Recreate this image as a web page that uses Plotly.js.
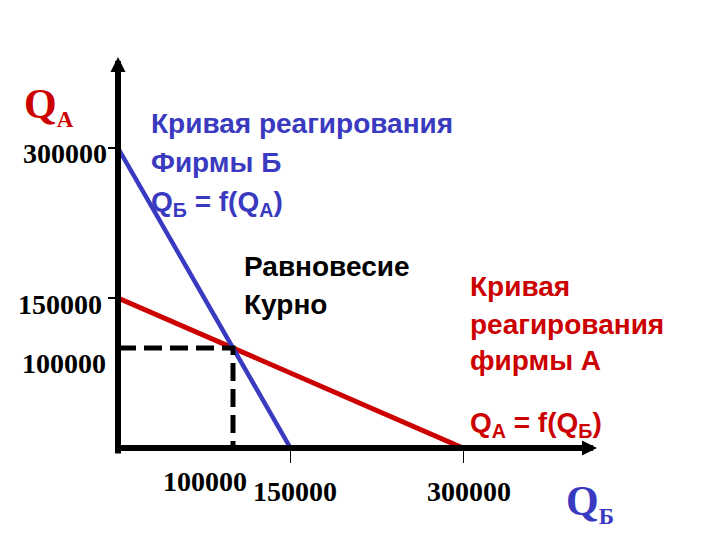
<!DOCTYPE html>
<html><head><meta charset="utf-8">
<script src="https://cdn.plot.ly/plotly-3.0.1.min.js"></script>
<style>html,body{margin:0;padding:0;background:#fff}</style>
</head><body><div id="chart" style="width:720px;height:540px"></div>
<script>
// Reaction curve of firm Б: Q_Б = f(Q_A)  (x = Q_Б, y = Q_A)
const curveB_x = [0, 150000];
const curveB_y = [300000, 0];
// Reaction curve of firm A: Q_A = f(Q_Б)
const curveA_x = [0, 300000];
const curveA_y = [150000, 0];
// Cournot equilibrium
const eq_x = 100000;
const eq_y = 100000;
// Axis tick labels
const xTickVals = [100000, 150000, 300000];
const xTickText = ['100000', '150000', '300000'];
const yTickVals = [100000, 150000, 300000];
const yTickText = ['100000', '150000', '300000'];
const xMarkVals = [150000, 300000];
const yMarkVals = [150000, 300000];

const BLUE = '#3a3ac0', RED = '#cc0000';
const SANS = 'Liberation Sans, Arial, sans-serif';
const SERIF = 'Liberation Serif, Times New Roman, serif';

const L = 118, T = 56, PW = 483, PH = 392;
const xMax = 420000, yMax = 392000;
const px = p => (p - L) / PW;
const py = p => (T + PH - p) / PH;

function txt(text, x, y, color, family, size, xanchor) {
  return {text: text, xref: 'paper', yref: 'paper', x: px(x), y: py(y),
    xanchor: xanchor || 'left', yanchor: 'middle', showarrow: false,
    font: {family: family, size: size, color: color, weight: 'bold'}};
}

const traces = [
  {x: curveA_x, y: curveA_y, mode: 'lines', line: {color: RED, width: 5}, hoverinfo: 'skip'},
  {x: curveB_x, y: curveB_y, mode: 'lines', line: {color: BLUE, width: 4.5}, hoverinfo: 'skip'},
  {x: [0, eq_x, eq_x], y: [eq_y, eq_y, 0], mode: 'lines',
   line: {color: '#000', width: 5, dash: '18px,8px'}, hoverinfo: 'skip'}
];

const ann = [];
// axes with arrowheads
ann.push({xref: 'x', yref: 'y', axref: 'x', ayref: 'y', x: 416500, y: 0, ax: -3000, ay: 0,
  showarrow: true, arrowhead: 2, arrowsize: 0.5, arrowwidth: 6, arrowcolor: '#000', text: ''});
ann.push({xref: 'x', yref: 'y', axref: 'x', ayref: 'y', x: 0, y: 391000, ax: 0, ay: -7000,
  showarrow: true, arrowhead: 2, arrowsize: 0.5, arrowwidth: 6, arrowcolor: '#000', text: ''});

// tick labels
const xLabShift = [{dx: -28, y: 481}, {dx: 4, y: 491}, {dx: 6, y: 491}];
xTickVals.forEach((v, i) => {
  ann.push({text: xTickText[i], xref: 'x', yref: 'paper', x: v, y: py(xLabShift[i].y),
    xshift: xLabShift[i].dx, xanchor: 'center', yanchor: 'middle', showarrow: false,
    font: {family: SERIF, size: 28, color: '#000', weight: 'bold'}});
});
const yLabShift = [{x: 108, dy: -15}, {x: 104, dy: -6}, {x: 109, dy: -5}];
yTickVals.forEach((v, i) => {
  ann.push({text: yTickText[i], xref: 'paper', yref: 'y', x: px(yLabShift[i].x), y: v,
    yshift: yLabShift[i].dy, xanchor: 'right', yanchor: 'middle', showarrow: false,
    font: {family: SERIF, size: 28, color: '#000', weight: 'bold'}});
});

// axis titles
ann.push(txt('Q<sub><span style="font-size:23px">A</span></sub>', 22, 107, RED, SERIF, 42));
ann.push(txt('Q<sub><span style="font-size:23px">Б</span></sub>', 564, 503, BLUE, SERIF, 42));

// firm Б curve label
ann.push(txt('Кривая реагирования', 149, 123, BLUE, SANS, 28));
ann.push(txt('Фирмы Б', 149, 162, BLUE, SANS, 28));
ann.push(txt('Q<sub>Б</sub> = f(Q<sub>A</sub>)', 149, 203, BLUE, SANS, 28));
// equilibrium label
ann.push(txt('Равновесие', 242, 266, '#000', SANS, 28));
ann.push(txt('Курно', 242, 304, '#000', SANS, 28));
// firm A curve label
ann.push(txt('Кривая', 468, 286, RED, SANS, 28));
ann.push(txt('реагирования', 468, 324, RED, SANS, 28));
ann.push(txt('фирмы А', 468, 360, RED, SANS, 28));
ann.push(txt('Q<sub>A</sub> = f(Q<sub>Б</sub>)', 468, 424, RED, SANS, 28));

const layout = {
  width: 720, height: 540,
  margin: {l: L, r: 720 - L - PW, t: T, b: 540 - T - PH, pad: 0},
  paper_bgcolor: '#fff', plot_bgcolor: '#fff',
  showlegend: false,
  xaxis: {range: [0, xMax], showgrid: false, zeroline: false, showline: false,
    ticks: 'outside', tickvals: xMarkVals, ticklen: 14, tickwidth: 1, tickcolor: '#000',
    showticklabels: false, fixedrange: true},
  yaxis: {range: [0, yMax], showgrid: false, zeroline: false, showline: false,
    ticks: 'outside', tickvals: yMarkVals, ticklen: 9, tickwidth: 2, tickcolor: '#000',
    showticklabels: false, fixedrange: true},
  annotations: ann
};

Plotly.newPlot('chart', traces, layout, {staticPlot: true, displayModeBar: false});
</script>
</body></html>
